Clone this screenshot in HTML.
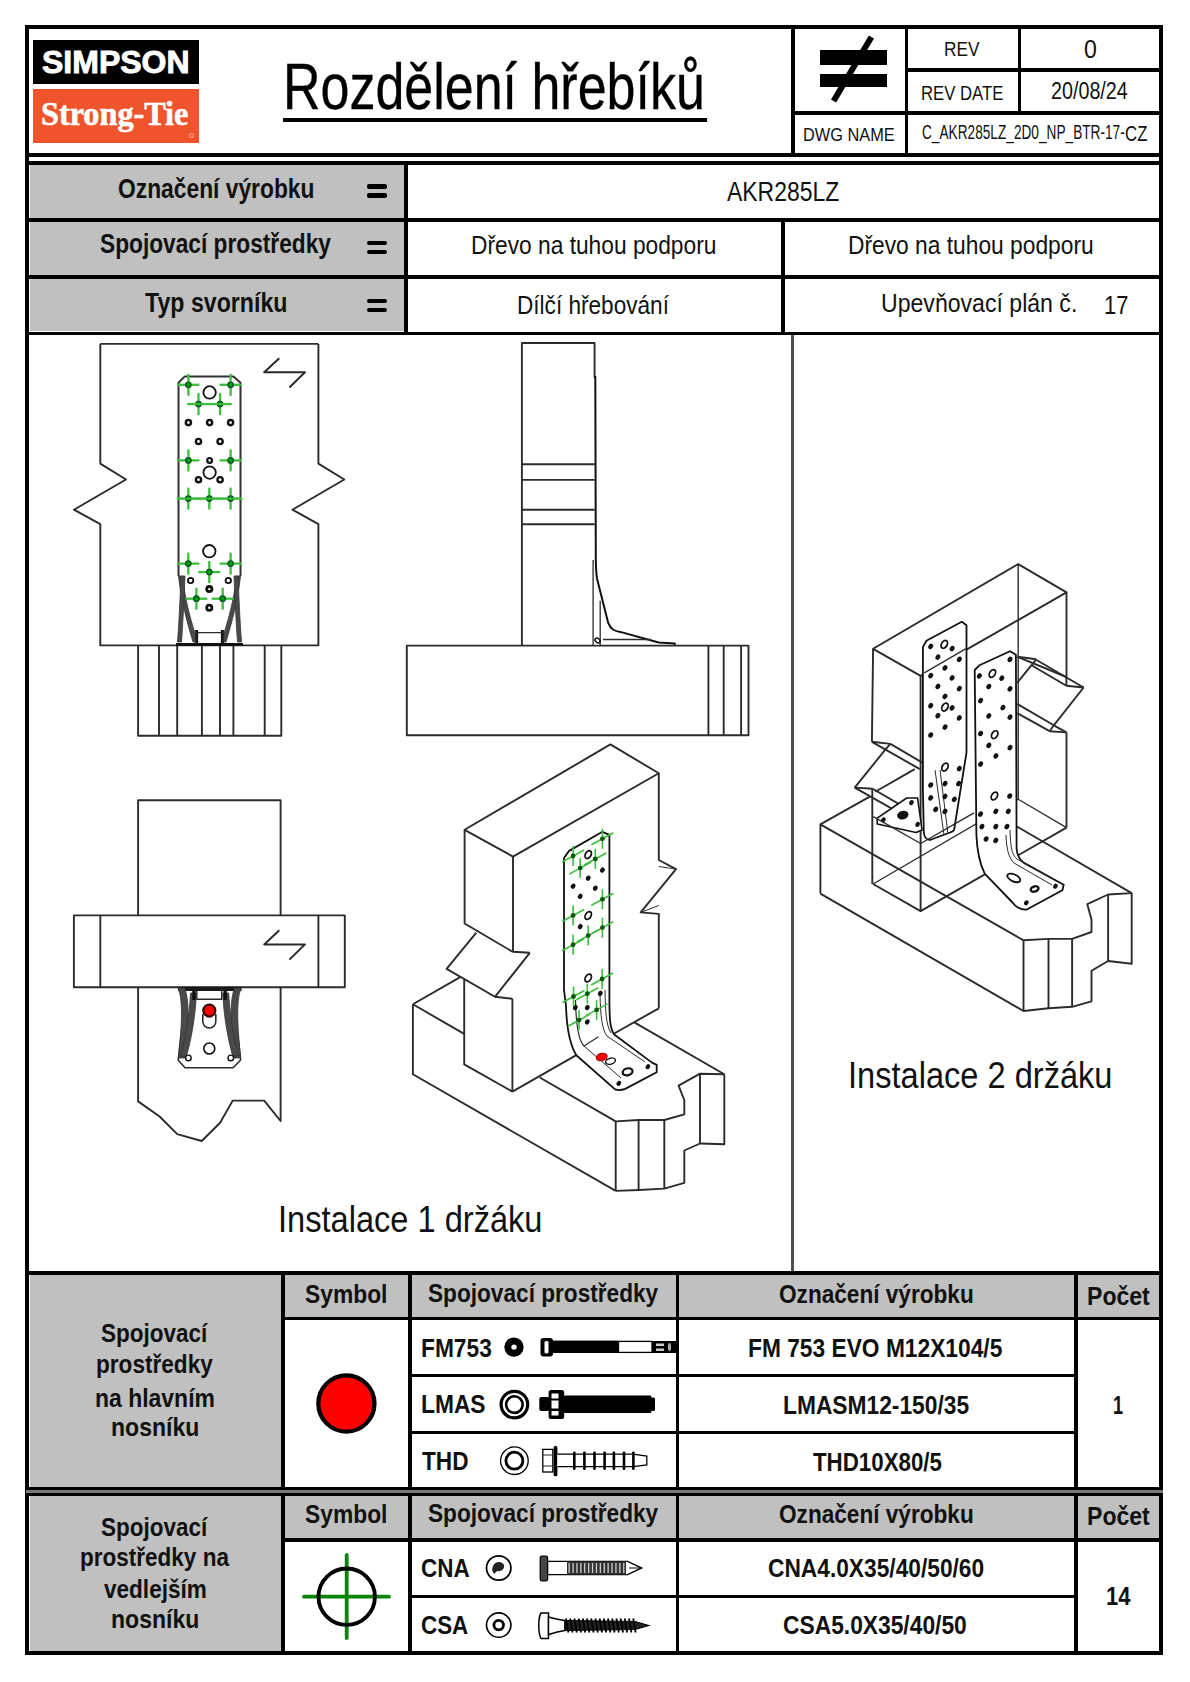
<!DOCTYPE html>
<html><head><meta charset="utf-8"><style>
html,body{margin:0;padding:0;background:#fff;width:1190px;height:1682px;overflow:hidden}
body>div{position:absolute}
.t{white-space:nowrap;transform-origin:0 0}
svg{position:absolute;left:0;top:0}
</style></head><body>
<div style="left:29.50px;top:165.10px;width:374.10px;height:166.40px;background:#c0c0c0"></div>
<div style="left:29.50px;top:1275.10px;width:251.50px;height:211.90px;background:#c0c0c0"></div>
<div style="left:29.50px;top:1496.20px;width:251.50px;height:154.80px;background:#c0c0c0"></div>
<div style="left:284.50px;top:1275.10px;width:874.70px;height:41.60px;background:#c0c0c0"></div>
<div style="left:284.50px;top:1496.20px;width:874.70px;height:41.80px;background:#c0c0c0"></div>
<div style="left:25.10px;top:25.30px;width:1138.30px;height:4.00px;background:#000"></div>
<div style="left:25.10px;top:1651.00px;width:1138.30px;height:4.00px;background:#000"></div>
<div style="left:25.10px;top:25.30px;width:4.00px;height:1629.70px;background:#000"></div>
<div style="left:1159.20px;top:25.30px;width:4.20px;height:1629.70px;background:#000"></div>
<div style="left:791.00px;top:25.60px;width:3.50px;height:131.40px;background:#000"></div>
<div style="left:904.50px;top:25.60px;width:3.50px;height:131.40px;background:#000"></div>
<div style="left:1018.00px;top:25.60px;width:3.30px;height:85.90px;background:#000"></div>
<div style="left:904.50px;top:68.00px;width:258.90px;height:3.50px;background:#000"></div>
<div style="left:791.00px;top:111.00px;width:372.40px;height:3.50px;background:#000"></div>
<div style="left:25.50px;top:153.00px;width:1137.90px;height:4.00px;background:#000"></div>
<div style="left:25.50px;top:161.30px;width:1137.90px;height:3.80px;background:#000"></div>
<div style="left:403.60px;top:161.30px;width:4.10px;height:173.70px;background:#000"></div>
<div style="left:25.50px;top:218.00px;width:1137.90px;height:3.50px;background:#000"></div>
<div style="left:25.50px;top:275.30px;width:1137.90px;height:3.40px;background:#000"></div>
<div style="left:25.50px;top:331.50px;width:1137.90px;height:3.50px;background:#000"></div>
<div style="left:781.40px;top:218.00px;width:4.00px;height:117.00px;background:#000"></div>
<div style="left:790.80px;top:335.00px;width:2.80px;height:937.00px;background:#505050"></div>
<div style="left:25.50px;top:1271.20px;width:1137.90px;height:4.00px;background:#000"></div>
<div style="left:281.00px;top:1271.20px;width:4.00px;height:383.80px;background:#000"></div>
<div style="left:408.20px;top:1271.20px;width:3.60px;height:383.80px;background:#000"></div>
<div style="left:675.50px;top:1271.20px;width:3.70px;height:383.80px;background:#000"></div>
<div style="left:1073.80px;top:1271.20px;width:4.00px;height:383.80px;background:#000"></div>
<div style="left:281.00px;top:1316.60px;width:882.40px;height:3.80px;background:#000"></div>
<div style="left:408.20px;top:1373.50px;width:669.60px;height:3.70px;background:#000"></div>
<div style="left:408.20px;top:1430.60px;width:669.60px;height:3.40px;background:#000"></div>
<div style="left:25.50px;top:1487.00px;width:1137.90px;height:3.00px;background:#000"></div>
<div style="left:25.50px;top:1490.00px;width:1137.90px;height:3.20px;background:#777"></div>
<div style="left:25.50px;top:1493.20px;width:1137.90px;height:3.00px;background:#000"></div>
<div style="left:281.00px;top:1538.00px;width:882.40px;height:3.60px;background:#000"></div>
<div style="left:408.20px;top:1594.70px;width:669.60px;height:3.50px;background:#000"></div>
<div style="left:32.50px;top:40.30px;width:166.40px;height:43.40px;background:#000"></div>
<div style="left:32.50px;top:88.70px;width:166.40px;height:54.00px;background:#ef542c"></div>
<div style="left:188.6px;top:132.8px;width:5px;height:5px;border-radius:50%;border:0.8px solid #f8b39c;box-sizing:border-box"></div>
<div class="t" style="left:42.14px;top:47.36px;font-size:31px;line-height:31px;font-family:'Liberation Sans',sans-serif;font-weight:bold;color:#fff;transform:scaleX(1.0324);-webkit-text-stroke:0.9px #fff;">SIMPSON</div>
<div class="t" style="left:41.03px;top:97.86px;font-size:33px;line-height:33px;font-family:'Liberation Serif',serif;font-weight:bold;color:#fff;transform:scaleX(0.9762);-webkit-text-stroke:0.6px #fff;">Strong-Tie</div>
<div class="t" style="left:283.44px;top:53.97px;font-size:65px;line-height:65px;font-family:'Liberation Sans',sans-serif;font-weight:normal;color:#000;transform:scaleX(0.7995);-webkit-text-stroke:0.35px #000;">Rozdělení hřebíků</div>
<div style="left:283.10px;top:117.50px;width:424.30px;height:4.50px;background:#000"></div>
<div class="t" style="left:943.92px;top:38.61px;font-size:20.3px;line-height:20.3px;font-family:'Liberation Sans',sans-serif;font-weight:normal;color:#111;transform:scaleX(0.8502);">REV</div>
<div class="t" style="left:1083.58px;top:36.90px;font-size:25.4px;line-height:25.4px;font-family:'Liberation Sans',sans-serif;font-weight:normal;color:#111;transform:scaleX(0.9104);">0</div>
<div class="t" style="left:921.06px;top:82.81px;font-size:20.3px;line-height:20.3px;font-family:'Liberation Sans',sans-serif;font-weight:normal;color:#111;transform:scaleX(0.8243);">REV DATE</div>
<div class="t" style="left:1050.81px;top:79.49px;font-size:24.7px;line-height:24.7px;font-family:'Liberation Sans',sans-serif;font-weight:normal;color:#111;transform:scaleX(0.7991);">20/08/24</div>
<div class="t" style="left:802.79px;top:125.21px;font-size:19px;line-height:19px;font-family:'Liberation Sans',sans-serif;font-weight:normal;color:#111;transform:scaleX(0.8609);">DWG NAME</div>
<div class="t" style="left:921.82px;top:123.09px;font-size:19.5px;line-height:19.5px;font-family:'Liberation Sans',sans-serif;font-weight:normal;color:#111;transform:scaleX(0.7006);">C_AKR285LZ_2D0_NP_BTR-17-</div>
<div class="t" style="left:1125.16px;top:122.57px;font-size:22px;line-height:22px;font-family:'Liberation Sans',sans-serif;font-weight:normal;color:#111;transform:scaleX(0.7636);">CZ</div>
<div style="left:819.70px;top:49.60px;width:67.70px;height:15.10px;background:#000"></div>
<div style="left:819.70px;top:73.60px;width:67.70px;height:13.80px;background:#000"></div>
<svg style="position:absolute;left:0;top:0" width="1190" height="200"><line x1="871.4" y1="37" x2="833.6" y2="101" stroke="#000" stroke-width="6"/></svg>
<div class="t" style="left:117.99px;top:176.34px;font-size:27px;line-height:27px;font-family:'Liberation Sans',sans-serif;font-weight:bold;color:#111;transform:scaleX(0.8448);">Označení výrobku</div>
<div class="t" style="left:100.22px;top:230.84px;font-size:27px;line-height:27px;font-family:'Liberation Sans',sans-serif;font-weight:bold;color:#111;transform:scaleX(0.8409);">Spojovací prostředky</div>
<div class="t" style="left:145.37px;top:290.34px;font-size:27px;line-height:27px;font-family:'Liberation Sans',sans-serif;font-weight:bold;color:#111;transform:scaleX(0.8578);">Typ svorníku</div>
<div style="left:367.1px;top:184.4px;width:20.2px;height:4.4px;background:#000;border-radius:2px"></div>
<div style="left:367.1px;top:193.3px;width:20.2px;height:4.4px;background:#000;border-radius:2px"></div>
<div style="left:367.1px;top:240.7px;width:20.2px;height:4.4px;background:#000;border-radius:2px"></div>
<div style="left:367.1px;top:249.5px;width:20.2px;height:4.4px;background:#000;border-radius:2px"></div>
<div style="left:367.1px;top:298.6px;width:20.2px;height:4.4px;background:#000;border-radius:2px"></div>
<div style="left:367.1px;top:307.5px;width:20.2px;height:4.4px;background:#000;border-radius:2px"></div>
<div class="t" style="left:726.80px;top:177.27px;font-size:28.5px;line-height:28.5px;font-family:'Liberation Sans',sans-serif;font-weight:normal;color:#111;transform:scaleX(0.8050);">AKR285LZ</div>
<div class="t" style="left:470.68px;top:232.71px;font-size:25.5px;line-height:25.5px;font-family:'Liberation Sans',sans-serif;font-weight:normal;color:#111;transform:scaleX(0.8923);">Dřevo na tuhou podporu</div>
<div class="t" style="left:848.38px;top:232.71px;font-size:25.5px;line-height:25.5px;font-family:'Liberation Sans',sans-serif;font-weight:normal;color:#111;transform:scaleX(0.8934);">Dřevo na tuhou podporu</div>
<div class="t" style="left:516.99px;top:293.41px;font-size:25.5px;line-height:25.5px;font-family:'Liberation Sans',sans-serif;font-weight:normal;color:#111;transform:scaleX(0.8858);">Dílčí hřebování</div>
<div class="t" style="left:880.77px;top:291.11px;font-size:25.5px;line-height:25.5px;font-family:'Liberation Sans',sans-serif;font-weight:normal;color:#111;transform:scaleX(0.9052);">Upevňovací plán č.</div>
<div class="t" style="left:1104.36px;top:292.71px;font-size:25.5px;line-height:25.5px;font-family:'Liberation Sans',sans-serif;font-weight:normal;color:#111;transform:scaleX(0.8560);">17</div>
<div class="t" style="left:278.07px;top:1201.85px;font-size:36.2px;line-height:36.2px;font-family:'Liberation Sans',sans-serif;font-weight:normal;color:#111;transform:scaleX(0.9006);">Instalace 1 držáku</div>
<div class="t" style="left:848.07px;top:1057.65px;font-size:36.2px;line-height:36.2px;font-family:'Liberation Sans',sans-serif;font-weight:normal;color:#111;transform:scaleX(0.9006);">Instalace 2 držáku</div>
<div class="t" style="left:305.42px;top:1281.51px;font-size:25.5px;line-height:25.5px;font-family:'Liberation Sans',sans-serif;font-weight:bold;color:#111;transform:scaleX(0.8948);">Symbol</div>
<div class="t" style="left:427.52px;top:1281.21px;font-size:25.5px;line-height:25.5px;font-family:'Liberation Sans',sans-serif;font-weight:bold;color:#111;transform:scaleX(0.8876);">Spojovací prostředky</div>
<div class="t" style="left:779.20px;top:1282.01px;font-size:25.5px;line-height:25.5px;font-family:'Liberation Sans',sans-serif;font-weight:bold;color:#111;transform:scaleX(0.8866);">Označení výrobku</div>
<div class="t" style="left:1086.50px;top:1284.11px;font-size:25.5px;line-height:25.5px;font-family:'Liberation Sans',sans-serif;font-weight:bold;color:#111;transform:scaleX(0.9044);">Počet</div>
<div class="t" style="left:305.42px;top:1501.71px;font-size:25.5px;line-height:25.5px;font-family:'Liberation Sans',sans-serif;font-weight:bold;color:#111;transform:scaleX(0.8948);">Symbol</div>
<div class="t" style="left:427.52px;top:1501.41px;font-size:25.5px;line-height:25.5px;font-family:'Liberation Sans',sans-serif;font-weight:bold;color:#111;transform:scaleX(0.8876);">Spojovací prostředky</div>
<div class="t" style="left:779.20px;top:1502.21px;font-size:25.5px;line-height:25.5px;font-family:'Liberation Sans',sans-serif;font-weight:bold;color:#111;transform:scaleX(0.8866);">Označení výrobku</div>
<div class="t" style="left:1086.50px;top:1504.01px;font-size:25.5px;line-height:25.5px;font-family:'Liberation Sans',sans-serif;font-weight:bold;color:#111;transform:scaleX(0.9044);">Počet</div>
<div class="t" style="left:101.12px;top:1321.13px;font-size:25px;line-height:25px;font-family:'Liberation Sans',sans-serif;font-weight:bold;color:#111;transform:scaleX(0.9000);">Spojovací</div>
<div class="t" style="left:95.93px;top:1352.34px;font-size:25px;line-height:25px;font-family:'Liberation Sans',sans-serif;font-weight:bold;color:#111;transform:scaleX(0.9036);">prostředky</div>
<div class="t" style="left:95.21px;top:1385.74px;font-size:25px;line-height:25px;font-family:'Liberation Sans',sans-serif;font-weight:bold;color:#111;transform:scaleX(0.9184);">na hlavním</div>
<div class="t" style="left:110.80px;top:1414.63px;font-size:25px;line-height:25px;font-family:'Liberation Sans',sans-serif;font-weight:bold;color:#111;transform:scaleX(0.9209);">nosníku</div>
<div class="t" style="left:101.12px;top:1514.54px;font-size:25px;line-height:25px;font-family:'Liberation Sans',sans-serif;font-weight:bold;color:#111;transform:scaleX(0.9000);">Spojovací</div>
<div class="t" style="left:79.64px;top:1544.54px;font-size:25px;line-height:25px;font-family:'Liberation Sans',sans-serif;font-weight:bold;color:#111;transform:scaleX(0.9007);">prostředky na</div>
<div class="t" style="left:103.89px;top:1576.84px;font-size:25px;line-height:25px;font-family:'Liberation Sans',sans-serif;font-weight:bold;color:#111;transform:scaleX(0.9023);">vedlejším</div>
<div class="t" style="left:110.80px;top:1606.84px;font-size:25px;line-height:25px;font-family:'Liberation Sans',sans-serif;font-weight:bold;color:#111;transform:scaleX(0.9209);">nosníku</div>
<div class="t" style="left:420.72px;top:1335.84px;font-size:25px;line-height:25px;font-family:'Liberation Sans',sans-serif;font-weight:bold;color:#111;transform:scaleX(0.9103);">FM753</div>
<div class="t" style="left:420.72px;top:1392.04px;font-size:25px;line-height:25px;font-family:'Liberation Sans',sans-serif;font-weight:bold;color:#111;transform:scaleX(0.9114);">LMAS</div>
<div class="t" style="left:421.97px;top:1449.24px;font-size:25px;line-height:25px;font-family:'Liberation Sans',sans-serif;font-weight:bold;color:#111;transform:scaleX(0.9057);">THD</div>
<div class="t" style="left:421.30px;top:1555.84px;font-size:25px;line-height:25px;font-family:'Liberation Sans',sans-serif;font-weight:bold;color:#111;transform:scaleX(0.8971);">CNA</div>
<div class="t" style="left:421.30px;top:1613.13px;font-size:25px;line-height:25px;font-family:'Liberation Sans',sans-serif;font-weight:bold;color:#111;transform:scaleX(0.8958);">CSA</div>
<div class="t" style="left:748.32px;top:1336.24px;font-size:25px;line-height:25px;font-family:'Liberation Sans',sans-serif;font-weight:bold;color:#111;transform:scaleX(0.9105);">FM 753 EVO M12X104/5</div>
<div class="t" style="left:782.82px;top:1392.54px;font-size:25px;line-height:25px;font-family:'Liberation Sans',sans-serif;font-weight:bold;color:#111;transform:scaleX(0.9109);">LMASM12-150/35</div>
<div class="t" style="left:812.68px;top:1449.63px;font-size:25px;line-height:25px;font-family:'Liberation Sans',sans-serif;font-weight:bold;color:#111;transform:scaleX(0.8919);">THD10X80/5</div>
<div class="t" style="left:767.79px;top:1556.34px;font-size:25px;line-height:25px;font-family:'Liberation Sans',sans-serif;font-weight:bold;color:#111;transform:scaleX(0.9095);">CNA4.0X35/40/50/60</div>
<div class="t" style="left:783.39px;top:1613.43px;font-size:25px;line-height:25px;font-family:'Liberation Sans',sans-serif;font-weight:bold;color:#111;transform:scaleX(0.9118);">CSA5.0X35/40/50</div>
<div class="t" style="left:1113.41px;top:1392.54px;font-size:25px;line-height:25px;font-family:'Liberation Sans',sans-serif;font-weight:bold;color:#111;transform:scaleX(0.7234);">1</div>
<div class="t" style="left:1105.68px;top:1584.04px;font-size:25px;line-height:25px;font-family:'Liberation Sans',sans-serif;font-weight:bold;color:#111;transform:scaleX(0.8804);">14</div>
<svg width="1190" height="1682" viewBox="0 0 1190 1682"><path d="M100.3,343.9 L318.4,343.9" stroke="#2b2b2b" stroke-width="1.9" fill="none" stroke-linejoin="round" />
<path d="M100.3,343.9 L100.3,463.6 L126.0,479.5 L73.9,509.7 L100.3,524.1 L100.3,645.4" stroke="#2b2b2b" stroke-width="1.9" fill="none" stroke-linejoin="round" />
<path d="M318.4,343.9 L318.4,463.6 L344.3,479.5 L292.4,509.7 L318.4,524.1 L318.4,645.4" stroke="#2b2b2b" stroke-width="1.9" fill="none" stroke-linejoin="round" />
<line x1="99.6" y1="645.4" x2="319.1" y2="645.4" stroke="#2b2b2b" stroke-width="1.9"/>
<path d="M279.3,358.2 L264.2,372.3 L305.0,372.3 L289.4,387.5" stroke="#2b2b2b" stroke-width="2.0" fill="none" stroke-linejoin="round" />
<path d="M138.1,645.4 L138.1,735.8 L281.3,735.8 L281.3,645.4" stroke="#2b2b2b" stroke-width="1.9" fill="none" stroke-linejoin="round" />
<line x1="159.0" y1="645.4" x2="159.0" y2="735.8" stroke="#2b2b2b" stroke-width="1.9"/>
<line x1="177.2" y1="645.4" x2="177.2" y2="735.8" stroke="#2b2b2b" stroke-width="1.9"/>
<line x1="201.9" y1="645.4" x2="201.9" y2="735.8" stroke="#2b2b2b" stroke-width="1.9"/>
<line x1="220.0" y1="645.4" x2="220.0" y2="735.8" stroke="#2b2b2b" stroke-width="1.9"/>
<line x1="233.4" y1="645.4" x2="233.4" y2="735.8" stroke="#2b2b2b" stroke-width="1.9"/>
<line x1="264.7" y1="645.4" x2="264.7" y2="735.8" stroke="#2b2b2b" stroke-width="1.9"/>
<path d="M178.5,576.0 L178.5,382.7 L184.8,376.4 L233.5,376.4 L240.5,382.7 L240.5,576.0" stroke="#333" stroke-width="2.0" fill="none" stroke-linejoin="round" />
<path d="M178.5,576 L182.5,576 C185,600 191,622 198,642 L193,642 C187,622 181,600 178.5,576 Z" stroke="#333" stroke-width="0.8" fill="#4a4a4a" stroke-linejoin="round" />
<path d="M181,576 L185,576 C184,600 183,622 181.5,642 L177.5,642 C179,622 180,600 181,576 Z" stroke="#333" stroke-width="0.8" fill="#4a4a4a" stroke-linejoin="round" />
<line x1="196.6" y1="630.0" x2="196.6" y2="643.0" stroke="#111" stroke-width="3.0"/>
<path d="M240.5,576 L236.5,576 C234,600 228,622 221,642 L226,642 C232,622 238,600 240.5,576 Z" stroke="#333" stroke-width="0.8" fill="#4a4a4a" stroke-linejoin="round" />
<path d="M238,576 L234,576 C235,600 236,622 237.5,642 L241.5,642 C240,622 239,600 238,576 Z" stroke="#333" stroke-width="0.8" fill="#4a4a4a" stroke-linejoin="round" />
<line x1="222.4" y1="630.0" x2="222.4" y2="643.0" stroke="#111" stroke-width="3.0"/>
<path d="M195.9,644.0 L195.9,632.6 L223.2,632.6 L223.2,644.0" stroke="#2b2b2b" stroke-width="1.4" fill="none" stroke-linejoin="round" />
<line x1="176.0" y1="644.5" x2="243.0" y2="644.5" stroke="#111" stroke-width="3"/>
<circle cx="188.4" cy="422.6" r="2.6" stroke="#111" stroke-width="2.4" fill="none"/>
<circle cx="209.6" cy="422.6" r="2.6" stroke="#111" stroke-width="2.4" fill="none"/>
<circle cx="230.6" cy="422.6" r="2.6" stroke="#111" stroke-width="2.4" fill="none"/>
<circle cx="198.5" cy="441.5" r="2.6" stroke="#111" stroke-width="2.4" fill="none"/>
<circle cx="220.1" cy="441.5" r="2.6" stroke="#111" stroke-width="2.4" fill="none"/>
<circle cx="198.5" cy="479.7" r="2.6" stroke="#111" stroke-width="2.4" fill="none"/>
<circle cx="220.1" cy="479.7" r="2.6" stroke="#111" stroke-width="2.4" fill="none"/>
<circle cx="209.6" cy="460.4" r="2.4" stroke="#111" stroke-width="2.2" fill="none"/>
<circle cx="209.6" cy="392.4" r="6.2" stroke="#111" stroke-width="1.8" fill="none"/>
<circle cx="209.6" cy="472.6" r="6.2" stroke="#111" stroke-width="1.8" fill="none"/>
<circle cx="209.3" cy="551.2" r="6.2" stroke="#111" stroke-width="1.8" fill="none"/>
<circle cx="190.6" cy="580.5" r="2.7" stroke="#111" stroke-width="1.8" fill="none"/>
<circle cx="228.3" cy="580.5" r="2.7" stroke="#111" stroke-width="1.8" fill="none"/>
<circle cx="209.3" cy="589.1" r="2.6" stroke="#111" stroke-width="2.8" fill="none"/>
<circle cx="209.3" cy="607.8" r="2.6" stroke="#111" stroke-width="2.8" fill="none"/>
<line x1="177.4" y1="384.8" x2="199.4" y2="384.8" stroke="#3cbe3c" stroke-width="2.3"/>
<line x1="188.4" y1="373.8" x2="188.4" y2="395.8" stroke="#3cbe3c" stroke-width="2.3"/>
<circle cx="188.4" cy="384.8" r="2.7" stroke="#052" stroke-width="1.3" fill="#0a9a0a"/>
<line x1="219.6" y1="384.8" x2="241.6" y2="384.8" stroke="#3cbe3c" stroke-width="2.3"/>
<line x1="230.6" y1="373.8" x2="230.6" y2="395.8" stroke="#3cbe3c" stroke-width="2.3"/>
<circle cx="230.6" cy="384.8" r="2.7" stroke="#052" stroke-width="1.3" fill="#0a9a0a"/>
<line x1="187.5" y1="404.1" x2="209.5" y2="404.1" stroke="#3cbe3c" stroke-width="2.3"/>
<line x1="198.5" y1="393.1" x2="198.5" y2="415.1" stroke="#3cbe3c" stroke-width="2.3"/>
<circle cx="198.5" cy="404.1" r="2.7" stroke="#052" stroke-width="1.3" fill="#0a9a0a"/>
<line x1="209.1" y1="404.1" x2="231.1" y2="404.1" stroke="#3cbe3c" stroke-width="2.3"/>
<line x1="220.1" y1="393.1" x2="220.1" y2="415.1" stroke="#3cbe3c" stroke-width="2.3"/>
<circle cx="220.1" cy="404.1" r="2.7" stroke="#052" stroke-width="1.3" fill="#0a9a0a"/>
<line x1="177.4" y1="460.4" x2="199.4" y2="460.4" stroke="#3cbe3c" stroke-width="2.3"/>
<line x1="188.4" y1="449.4" x2="188.4" y2="471.4" stroke="#3cbe3c" stroke-width="2.3"/>
<circle cx="188.4" cy="460.4" r="2.7" stroke="#052" stroke-width="1.3" fill="#0a9a0a"/>
<line x1="219.6" y1="460.4" x2="241.6" y2="460.4" stroke="#3cbe3c" stroke-width="2.3"/>
<line x1="230.6" y1="449.4" x2="230.6" y2="471.4" stroke="#3cbe3c" stroke-width="2.3"/>
<circle cx="230.6" cy="460.4" r="2.7" stroke="#052" stroke-width="1.3" fill="#0a9a0a"/>
<line x1="177.3" y1="498.6" x2="199.3" y2="498.6" stroke="#3cbe3c" stroke-width="2.3"/>
<line x1="188.3" y1="487.6" x2="188.3" y2="509.6" stroke="#3cbe3c" stroke-width="2.3"/>
<circle cx="188.3" cy="498.6" r="2.7" stroke="#052" stroke-width="1.3" fill="#0a9a0a"/>
<line x1="198.3" y1="498.6" x2="220.3" y2="498.6" stroke="#3cbe3c" stroke-width="2.3"/>
<line x1="209.3" y1="487.6" x2="209.3" y2="509.6" stroke="#3cbe3c" stroke-width="2.3"/>
<circle cx="209.3" cy="498.6" r="2.7" stroke="#052" stroke-width="1.3" fill="#0a9a0a"/>
<line x1="219.6" y1="498.6" x2="241.6" y2="498.6" stroke="#3cbe3c" stroke-width="2.3"/>
<line x1="230.6" y1="487.6" x2="230.6" y2="509.6" stroke="#3cbe3c" stroke-width="2.3"/>
<circle cx="230.6" cy="498.6" r="2.7" stroke="#052" stroke-width="1.3" fill="#0a9a0a"/>
<line x1="177.3" y1="563.6" x2="199.3" y2="563.6" stroke="#3cbe3c" stroke-width="2.3"/>
<line x1="188.3" y1="552.6" x2="188.3" y2="574.6" stroke="#3cbe3c" stroke-width="2.3"/>
<circle cx="188.3" cy="563.6" r="2.7" stroke="#052" stroke-width="1.3" fill="#0a9a0a"/>
<line x1="219.6" y1="563.6" x2="241.6" y2="563.6" stroke="#3cbe3c" stroke-width="2.3"/>
<line x1="230.6" y1="552.6" x2="230.6" y2="574.6" stroke="#3cbe3c" stroke-width="2.3"/>
<circle cx="230.6" cy="563.6" r="2.7" stroke="#052" stroke-width="1.3" fill="#0a9a0a"/>
<line x1="198.3" y1="572.1" x2="220.3" y2="572.1" stroke="#3cbe3c" stroke-width="2.3"/>
<line x1="209.3" y1="561.1" x2="209.3" y2="583.1" stroke="#3cbe3c" stroke-width="2.3"/>
<circle cx="209.3" cy="572.1" r="2.7" stroke="#052" stroke-width="1.3" fill="#0a9a0a"/>
<line x1="185.4" y1="598.7" x2="207.4" y2="598.7" stroke="#3cbe3c" stroke-width="2.3"/>
<line x1="196.4" y1="587.7" x2="196.4" y2="609.7" stroke="#3cbe3c" stroke-width="2.3"/>
<circle cx="196.4" cy="598.7" r="2.7" stroke="#052" stroke-width="1.3" fill="#0a9a0a"/>
<line x1="211.7" y1="598.7" x2="233.7" y2="598.7" stroke="#3cbe3c" stroke-width="2.3"/>
<line x1="222.7" y1="587.7" x2="222.7" y2="609.7" stroke="#3cbe3c" stroke-width="2.3"/>
<circle cx="222.7" cy="598.7" r="2.7" stroke="#052" stroke-width="1.3" fill="#0a9a0a"/>
<line x1="187.3" y1="404.1" x2="231.8" y2="404.1" stroke="#3cbe3c" stroke-width="1.6"/>
<line x1="176.7" y1="498.6" x2="242.4" y2="498.6" stroke="#3cbe3c" stroke-width="1.6"/>
<path d="M521.9,645.6 L521.9,343.0 L594.6,343.0 L594.6,378.0" stroke="#2b2b2b" stroke-width="1.9" fill="none" stroke-linejoin="round" />
<line x1="521.9" y1="464.3" x2="594.6" y2="464.3" stroke="#2b2b2b" stroke-width="1.9"/>
<line x1="521.9" y1="479.9" x2="594.6" y2="479.9" stroke="#2b2b2b" stroke-width="1.9"/>
<line x1="521.9" y1="509.7" x2="594.6" y2="509.7" stroke="#2b2b2b" stroke-width="1.9"/>
<line x1="521.9" y1="524.3" x2="594.6" y2="524.3" stroke="#2b2b2b" stroke-width="1.9"/>
<path d="M595.3,376 L595.8,560 C596,572 596.5,575 597,578.5 L608.2,622.9 C611,630 615,631 620.3,631.9 L658.7,642.5 L674.8,643.5 L674.8,645.5" stroke="#111" stroke-width="2.0" fill="none" stroke-linejoin="round" />
<line x1="593.1" y1="560.0" x2="593.1" y2="645.6" stroke="#2b2b2b" stroke-width="1.3"/>
<line x1="600.2" y1="600.7" x2="600.2" y2="645.6" stroke="#2b2b2b" stroke-width="1.3"/>
<line x1="603.0" y1="639.5" x2="650.6" y2="639.5" stroke="#2b2b2b" stroke-width="1.3"/>
<ellipse cx="597.6" cy="640.5" rx="2.8" ry="2" stroke="#111" stroke-width="1.5" fill="none" transform="rotate(40 597.6 640.5)"/>
<path d="M406.8,645.6 L748.5,645.6 L748.5,735.2 L406.8,735.2 Z" stroke="#2b2b2b" stroke-width="1.9" fill="none" stroke-linejoin="round" />
<line x1="708.4" y1="645.6" x2="708.4" y2="735.2" stroke="#2b2b2b" stroke-width="1.9"/>
<line x1="723.7" y1="645.6" x2="723.7" y2="735.2" stroke="#2b2b2b" stroke-width="1.9"/>
<line x1="741.1" y1="645.6" x2="741.1" y2="735.2" stroke="#2b2b2b" stroke-width="1.9"/>
<path d="M138.1,914.9 L138.1,800.2 L280.6,800.2 L280.6,914.9" stroke="#2b2b2b" stroke-width="1.9" fill="none" stroke-linejoin="round" />
<path d="M73.9,915.4 L344.8,915.4 L344.8,987.2 L73.9,987.2 Z" stroke="#2b2b2b" stroke-width="1.9" fill="none" stroke-linejoin="round" />
<line x1="100.3" y1="914.9" x2="100.3" y2="987.2" stroke="#2b2b2b" stroke-width="1.9"/>
<line x1="318.4" y1="914.9" x2="318.4" y2="987.2" stroke="#2b2b2b" stroke-width="1.9"/>
<path d="M279.3,930.3 L264.2,944.4 L305.0,944.4 L289.4,959.6" stroke="#2b2b2b" stroke-width="2.0" fill="none" stroke-linejoin="round" />
<path d="M138.1,987.2 L138.1,1101.4 L159.6,1116.5 L177.2,1134.2 L201.7,1141.0 L220.1,1122.8 L232.7,1100.6 L264.2,1100.6 L280.6,1121.0 L280.6,987.2" stroke="#2b2b2b" stroke-width="1.9" fill="none" stroke-linejoin="round" />
<rect x="178" y="986.8" width="63.5" height="4.2" fill="#1a1a1a"/>
<path d="M196.8,991.0 L196.8,999.3 L221.7,999.3 L221.7,991.0" stroke="#2b2b2b" stroke-width="1.4" fill="none" stroke-linejoin="round" />
<path d="M185.0,999.7 L178.2,1060.2 L185.0,1067.7 L233.1,1067.7 L240.6,1060.0 L233.8,999.7" stroke="#2b2b2b" stroke-width="1.6" fill="none" stroke-linejoin="round" />
<path d="M178,988 L184.5,988 C190,1000 188.5,1030 185,1058 L178.5,1058 C181.5,1030 183.5,1000 178,988 Z" stroke="#333" stroke-width="0.8" fill="#4a4a4a" stroke-linejoin="round" />
<path d="M190.5,993 L196.5,993 C195,1020 191,1040 186.5,1056 L180.5,1056 C185,1040 189,1020 190.5,993 Z" stroke="#333" stroke-width="0.8" fill="#4a4a4a" stroke-linejoin="round" />
<path d="M 241.2,988 L 234.7,988 C 229.2,1000 230.7,1030 234.2,1058 L 240.7,1058 C 237.7,1030 235.7,1000 241.2,988 Z" stroke="#333" stroke-width="0.8" fill="#4a4a4a" stroke-linejoin="round" />
<path d="M 228.7,993 L 222.7,993 C 224.2,1020 228.2,1040 232.7,1056 L 238.7,1056 C 234.2,1040 230.2,1020 228.7,993 Z" stroke="#333" stroke-width="0.8" fill="#4a4a4a" stroke-linejoin="round" />
<line x1="194.0" y1="991.0" x2="194.0" y2="1000.0" stroke="#111" stroke-width="3.4"/>
<line x1="225.2" y1="991.0" x2="225.2" y2="1000.0" stroke="#111" stroke-width="3.4"/>
<circle cx="209.3" cy="1010.6" r="6.0" stroke="#300" stroke-width="2.2" fill="#f00"/>
<path d="M202.8,1014 L202.8,1021.5 A6.5,6.5 0 0 0 215.8,1021.5 L215.8,1014" stroke="#2b2b2b" stroke-width="1.6" fill="none" stroke-linejoin="round" />
<circle cx="209.3" cy="1048.5" r="5.5" stroke="#111" stroke-width="1.6" fill="none"/>
<circle cx="188.4" cy="1057.9" r="2.8" stroke="#111" stroke-width="1.4" fill="none"/>
<circle cx="230.8" cy="1057.9" r="2.8" stroke="#111" stroke-width="1.4" fill="none"/>
<path d="M610.4,744.4 L658.8,773.3 L513.0,856.6 L464.6,829.8 Z" stroke="#2b2b2b" stroke-width="1.9" fill="none" stroke-linejoin="round" />
<path d="M464.6,829.8 L464.6,923.5 L512.6,951.8" stroke="#2b2b2b" stroke-width="1.9" fill="none" stroke-linejoin="round" />
<path d="M513.0,856.6 L513.0,951.8 L529.8,952.8" stroke="#2b2b2b" stroke-width="1.9" fill="none" stroke-linejoin="round" />
<path d="M529.8,952.8 L495.0,996.8 L446.6,968.9 L476.3,932.6" stroke="#2b2b2b" stroke-width="1.9" fill="none" stroke-linejoin="round" />
<path d="M495.0,996.8 L512.4,998.8" stroke="#2b2b2b" stroke-width="1.9" fill="none" stroke-linejoin="round" />
<path d="M658.8,773.3 L658.8,860.0 L676.0,869.1 L640.7,912.4 L658.8,913.9 L658.8,1008.3" stroke="#2b2b2b" stroke-width="1.9" fill="none" stroke-linejoin="round" />
<line x1="658.8" y1="866.5" x2="676.0" y2="869.1" stroke="#2b2b2b" stroke-width="1.0"/>
<line x1="640.7" y1="912.4" x2="658.8" y2="905.5" stroke="#2b2b2b" stroke-width="1.0"/>
<path d="M464.2,979.2 L464.2,1064.4 L512.4,1091.6" stroke="#2b2b2b" stroke-width="1.9" fill="none" stroke-linejoin="round" />
<line x1="512.4" y1="998.8" x2="512.4" y2="1091.6" stroke="#2b2b2b" stroke-width="1.9"/>
<path d="M512.4,1091.6 L576.3,1055.2" stroke="#2b2b2b" stroke-width="1.9" fill="none" stroke-linejoin="round" />
<path d="M614.2,1033.5 L658.8,1008.3" stroke="#2b2b2b" stroke-width="1.9" fill="none" stroke-linejoin="round" />
<path d="M412.9,1004.3 L460.2,977.1" stroke="#2b2b2b" stroke-width="1.9" fill="none" stroke-linejoin="round" />
<path d="M412.9,1004.3 L464.2,1033.9" stroke="#2b2b2b" stroke-width="1.9" fill="none" stroke-linejoin="round" />
<path d="M539.8,1077.5 L615.7,1121.4 L638.6,1120.0 L664.3,1120.0 L684.3,1114.3 L684.3,1100.0 L678.6,1085.7 L700.0,1073.7 L724.3,1074.3" stroke="#2b2b2b" stroke-width="1.9" fill="none" stroke-linejoin="round" />
<path d="M634.3,1022.4 L724.3,1074.3" stroke="#2b2b2b" stroke-width="1.9" fill="none" stroke-linejoin="round" />
<path d="M412.9,1004.3 L412.9,1074.3 L615.7,1190.9" stroke="#2b2b2b" stroke-width="1.9" fill="none" stroke-linejoin="round" />
<path d="M615.7,1190.9 L638.6,1190.0 L664.3,1188.6 L684.3,1182.9 L684.3,1150.5 L700.0,1143.5 L724.3,1144.3 L724.3,1074.3" stroke="#2b2b2b" stroke-width="1.9" fill="none" stroke-linejoin="round" />
<line x1="615.7" y1="1121.4" x2="615.7" y2="1190.9" stroke="#2b2b2b" stroke-width="1.9"/>
<line x1="638.6" y1="1120.0" x2="638.6" y2="1190.0" stroke="#2b2b2b" stroke-width="1.9"/>
<line x1="664.3" y1="1120.0" x2="664.3" y2="1188.6" stroke="#2b2b2b" stroke-width="1.9"/>
<line x1="700.0" y1="1073.7" x2="700.0" y2="1143.5" stroke="#2b2b2b" stroke-width="1.9"/>
<path d="M564,858 L569.1,850.9 L602.4,831.8 L609.4,834.8 L609.4,1000 C609.5,1020 610,1028 614.2,1034.5 L652,1062.6 L656.7,1064.9 L656.7,1072.3 L625.2,1088.9 C621,1090.5 618,1090.5 615.1,1089.4 L576.3,1055.2 C570,1045 566.6,1025 566,1006 L564,990 Z" stroke="#111" stroke-width="1.8" fill="#fff" stroke-linejoin="round" />
<path d="M575.5,1000 C576,1025 578,1040 584,1046 L598.4,1036.7" stroke="#2b2b2b" stroke-width="1.2" fill="none" stroke-linejoin="round" />
<path d="M600,995 C600.5,1015 602,1030 607,1036 L645,1062" stroke="#2b2b2b" stroke-width="1.0" fill="none" stroke-linejoin="round" />
<path d="M605,990 C605.5,1012 606,1025 611,1033" stroke="#2b2b2b" stroke-width="1.0" fill="none" stroke-linejoin="round" />
<line x1="584.0" y1="1046.0" x2="621.0" y2="1078.0" stroke="#2b2b2b" stroke-width="1.0"/>
<ellipse cx="602.4" cy="870.1" rx="2.76" ry="2.21" transform="rotate(-60 602.4 870.1)" fill="#111"/>
<ellipse cx="588.2" cy="878.2" rx="2.76" ry="2.21" transform="rotate(-60 588.2 878.2)" fill="#111"/>
<ellipse cx="573.1" cy="886.2" rx="2.76" ry="2.21" transform="rotate(-60 573.1 886.2)" fill="#111"/>
<ellipse cx="595.3" cy="888.2" rx="2.76" ry="2.21" transform="rotate(-60 595.3 888.2)" fill="#111"/>
<ellipse cx="580.2" cy="896.3" rx="2.76" ry="2.21" transform="rotate(-60 580.2 896.3)" fill="#111"/>
<ellipse cx="580.2" cy="926.6" rx="2.76" ry="2.21" transform="rotate(-60 580.2 926.6)" fill="#111"/>
<ellipse cx="600.3" cy="993.3" rx="2.76" ry="2.21" transform="rotate(-60 600.3 993.3)" fill="#111"/>
<ellipse cx="575.3" cy="1007.6" rx="2.76" ry="2.21" transform="rotate(-60 575.3 1007.6)" fill="#111"/>
<ellipse cx="587.3" cy="1007.6" rx="2.76" ry="2.21" transform="rotate(-60 587.3 1007.6)" fill="#111"/>
<ellipse cx="587.3" cy="1021.9" rx="2.76" ry="2.21" transform="rotate(-60 587.3 1021.9)" fill="#111"/>
<ellipse cx="588.2" cy="854.6" rx="4.2" ry="2.8" transform="rotate(-60 588.2 854.6)" stroke="#111" stroke-width="1.8" fill="none"/>
<ellipse cx="588.2" cy="915.5" rx="4.2" ry="2.8" transform="rotate(-60 588.2 915.5)" stroke="#111" stroke-width="1.8" fill="none"/>
<ellipse cx="588.2" cy="978.0" rx="4.2" ry="2.8" transform="rotate(-60 588.2 978.0)" stroke="#111" stroke-width="1.8" fill="none"/>
<line x1="562.1" y1="862.0" x2="584.1" y2="850.0" stroke="#3cbe3c" stroke-width="1.6"/>
<line x1="573.1" y1="846.0" x2="573.1" y2="866.0" stroke="#3cbe3c" stroke-width="1.6"/>
<circle cx="573.1" cy="856.0" r="2.4" stroke="none" stroke-width="0" fill="#0a5a0a"/>
<line x1="569.2" y1="874.1" x2="591.2" y2="862.1" stroke="#3cbe3c" stroke-width="1.6"/>
<line x1="580.2" y1="858.1" x2="580.2" y2="878.1" stroke="#3cbe3c" stroke-width="1.6"/>
<circle cx="580.2" cy="868.1" r="2.4" stroke="none" stroke-width="0" fill="#0a5a0a"/>
<line x1="584.3" y1="865.0" x2="606.3" y2="853.0" stroke="#3cbe3c" stroke-width="1.6"/>
<line x1="595.3" y1="849.0" x2="595.3" y2="869.0" stroke="#3cbe3c" stroke-width="1.6"/>
<circle cx="595.3" cy="859.0" r="2.4" stroke="none" stroke-width="0" fill="#0a5a0a"/>
<line x1="591.4" y1="844.8" x2="613.4" y2="832.8" stroke="#3cbe3c" stroke-width="1.6"/>
<line x1="602.4" y1="828.8" x2="602.4" y2="848.8" stroke="#3cbe3c" stroke-width="1.6"/>
<circle cx="602.4" cy="838.8" r="2.4" stroke="none" stroke-width="0" fill="#0a5a0a"/>
<line x1="591.4" y1="905.3" x2="613.4" y2="893.2" stroke="#3cbe3c" stroke-width="1.6"/>
<line x1="602.4" y1="889.3" x2="602.4" y2="909.3" stroke="#3cbe3c" stroke-width="1.6"/>
<circle cx="602.4" cy="899.3" r="2.4" stroke="none" stroke-width="0" fill="#0a5a0a"/>
<line x1="562.1" y1="921.5" x2="584.1" y2="909.5" stroke="#3cbe3c" stroke-width="1.6"/>
<line x1="573.1" y1="905.5" x2="573.1" y2="925.5" stroke="#3cbe3c" stroke-width="1.6"/>
<circle cx="573.1" cy="915.5" r="2.4" stroke="none" stroke-width="0" fill="#0a5a0a"/>
<line x1="562.1" y1="950.8" x2="584.1" y2="938.7" stroke="#3cbe3c" stroke-width="1.6"/>
<line x1="573.1" y1="934.7" x2="573.1" y2="954.7" stroke="#3cbe3c" stroke-width="1.6"/>
<circle cx="573.1" cy="944.7" r="2.4" stroke="none" stroke-width="0" fill="#0a5a0a"/>
<line x1="577.2" y1="941.6" x2="599.2" y2="929.6" stroke="#3cbe3c" stroke-width="1.6"/>
<line x1="588.2" y1="925.6" x2="588.2" y2="945.6" stroke="#3cbe3c" stroke-width="1.6"/>
<circle cx="588.2" cy="935.6" r="2.4" stroke="none" stroke-width="0" fill="#0a5a0a"/>
<line x1="591.4" y1="933.6" x2="613.4" y2="921.6" stroke="#3cbe3c" stroke-width="1.6"/>
<line x1="602.4" y1="917.6" x2="602.4" y2="937.6" stroke="#3cbe3c" stroke-width="1.6"/>
<circle cx="602.4" cy="927.6" r="2.4" stroke="none" stroke-width="0" fill="#0a5a0a"/>
<line x1="591.1" y1="985.0" x2="613.1" y2="973.0" stroke="#3cbe3c" stroke-width="1.6"/>
<line x1="602.1" y1="969.0" x2="602.1" y2="989.0" stroke="#3cbe3c" stroke-width="1.6"/>
<circle cx="602.1" cy="979.0" r="2.4" stroke="none" stroke-width="0" fill="#0a5a0a"/>
<line x1="576.3" y1="999.8" x2="598.3" y2="987.7" stroke="#3cbe3c" stroke-width="1.6"/>
<line x1="587.3" y1="983.7" x2="587.3" y2="1003.7" stroke="#3cbe3c" stroke-width="1.6"/>
<circle cx="587.3" cy="993.7" r="2.4" stroke="none" stroke-width="0" fill="#0a5a0a"/>
<line x1="562.5" y1="1002.5" x2="584.5" y2="990.5" stroke="#3cbe3c" stroke-width="1.6"/>
<line x1="573.5" y1="986.5" x2="573.5" y2="1006.5" stroke="#3cbe3c" stroke-width="1.6"/>
<circle cx="573.5" cy="996.5" r="2.4" stroke="none" stroke-width="0" fill="#0a5a0a"/>
<line x1="585.6" y1="1015.9" x2="607.6" y2="1003.9" stroke="#3cbe3c" stroke-width="1.6"/>
<line x1="596.6" y1="999.9" x2="596.6" y2="1019.9" stroke="#3cbe3c" stroke-width="1.6"/>
<circle cx="596.6" cy="1009.9" r="2.4" stroke="none" stroke-width="0" fill="#0a5a0a"/>
<line x1="568.0" y1="1026.2" x2="590.0" y2="1014.1" stroke="#3cbe3c" stroke-width="1.6"/>
<line x1="579.0" y1="1010.1" x2="579.0" y2="1030.1" stroke="#3cbe3c" stroke-width="1.6"/>
<circle cx="579.0" cy="1020.1" r="2.4" stroke="none" stroke-width="0" fill="#0a5a0a"/>
<ellipse cx="601.7" cy="1057.0" rx="5.5" ry="3.6" transform="rotate(-15 601.7 1057.0)" stroke="#900" stroke-width="1.2" fill="#f00"/>
<ellipse cx="610.5" cy="1061.2" rx="5" ry="3" transform="rotate(-15 610.5 1061.2)" stroke="#111" stroke-width="1.4" fill="none"/>
<ellipse cx="627.6" cy="1071.8" rx="5" ry="3.4" transform="rotate(-15 627.6 1071.8)" stroke="#111" stroke-width="2.2" fill="none"/>
<ellipse cx="647.9" cy="1066.7" rx="2.64" ry="2.11" transform="rotate(-60 647.9 1066.7)" fill="#111"/>
<ellipse cx="618.8" cy="1083.4" rx="2.64" ry="2.11" transform="rotate(-60 618.8 1083.4)" fill="#111"/>
<path d="M1018.2,564.1 L1066.5,592.4 L920.6,675.9 L873.1,648.8 Z" stroke="#2b2b2b" stroke-width="1.9" fill="none" stroke-linejoin="round" />
<line x1="1018.2" y1="564.1" x2="1018.2" y2="799.3" stroke="#2b2b2b" stroke-width="1.4"/>
<line x1="873.1" y1="648.8" x2="871.9" y2="741.8" stroke="#2b2b2b" stroke-width="1.9"/>
<line x1="872.3" y1="788.8" x2="872.3" y2="884.0" stroke="#2b2b2b" stroke-width="1.9"/>
<line x1="1066.5" y1="592.4" x2="1066.5" y2="677.0" stroke="#2b2b2b" stroke-width="1.9"/>
<line x1="1017.6" y1="656.8" x2="1066.4" y2="677.0" stroke="#2b2b2b" stroke-width="1.9"/>
<line x1="1031.5" y1="665.2" x2="1066.4" y2="685.8" stroke="#2b2b2b" stroke-width="1.9"/>
<line x1="1036.1" y1="659.7" x2="1083.6" y2="687.5" stroke="#2b2b2b" stroke-width="1.9"/>
<line x1="1017.6" y1="656.8" x2="1036.1" y2="659.3" stroke="#2b2b2b" stroke-width="1.9"/>
<line x1="1036.1" y1="659.7" x2="1031.5" y2="665.2" stroke="#2b2b2b" stroke-width="1.9"/>
<line x1="1066.4" y1="677.0" x2="1066.4" y2="685.8" stroke="#2b2b2b" stroke-width="1.9"/>
<line x1="1066.4" y1="685.8" x2="1083.6" y2="687.5" stroke="#2b2b2b" stroke-width="1.9"/>
<line x1="1031.5" y1="665.2" x2="1017.2" y2="682.9" stroke="#2b2b2b" stroke-width="1.9"/>
<line x1="1083.6" y1="687.5" x2="1053.8" y2="725.3" stroke="#2b2b2b" stroke-width="1.9"/>
<line x1="1017.2" y1="703.9" x2="1053.8" y2="725.3" stroke="#2b2b2b" stroke-width="1.9"/>
<line x1="1017.2" y1="713.1" x2="1049.6" y2="731.2" stroke="#2b2b2b" stroke-width="1.9"/>
<line x1="1053.8" y1="725.3" x2="1049.6" y2="731.2" stroke="#2b2b2b" stroke-width="1.9"/>
<line x1="1053.8" y1="725.3" x2="1066.4" y2="732.4" stroke="#2b2b2b" stroke-width="1.9"/>
<line x1="1049.6" y1="731.2" x2="1066.4" y2="732.4" stroke="#2b2b2b" stroke-width="1.9"/>
<line x1="1066.5" y1="732.4" x2="1066.5" y2="827.6" stroke="#2b2b2b" stroke-width="1.9"/>
<line x1="920.6" y1="675.9" x2="920.6" y2="911.1" stroke="#2b2b2b" stroke-width="1.9"/>
<path d="M873.1,884.0 L920.6,911.1 L1066.5,827.6" stroke="#2b2b2b" stroke-width="1.9" fill="none" stroke-linejoin="round" />
<path d="M873.1,884.0 L1018.2,799.3 L1066.5,827.6" stroke="#2b2b2b" stroke-width="1.3" fill="none" stroke-linejoin="round" />
<line x1="871.9" y1="741.8" x2="890.4" y2="743.9" stroke="#2b2b2b" stroke-width="1.9"/>
<line x1="871.9" y1="741.8" x2="919.8" y2="769.1" stroke="#2b2b2b" stroke-width="1.9"/>
<line x1="890.4" y1="743.9" x2="938.3" y2="772.0" stroke="#2b2b2b" stroke-width="1.9"/>
<line x1="890.4" y1="743.9" x2="885.3" y2="749.7" stroke="#2b2b2b" stroke-width="1.9"/>
<line x1="885.3" y1="749.7" x2="854.7" y2="787.6" stroke="#2b2b2b" stroke-width="1.9"/>
<line x1="854.7" y1="787.6" x2="872.7" y2="788.8" stroke="#2b2b2b" stroke-width="1.9"/>
<line x1="854.7" y1="787.6" x2="870.2" y2="796.4" stroke="#2b2b2b" stroke-width="1.9"/>
<line x1="875.3" y1="791.8" x2="914.7" y2="769.1" stroke="#2b2b2b" stroke-width="1.9"/>
<line x1="872.7" y1="788.8" x2="920.6" y2="816.6" stroke="#2b2b2b" stroke-width="1.9"/>
<line x1="870.2" y1="796.4" x2="919.0" y2="824.0" stroke="#2b2b2b" stroke-width="1.9"/>
<line x1="820.4" y1="824.4" x2="870.2" y2="796.4" stroke="#2b2b2b" stroke-width="1.9"/>
<path d="M820.4,893.6 L820.4,824.4 L1023.5,940.3" stroke="#2b2b2b" stroke-width="1.9" fill="none" stroke-linejoin="round" />
<path d="M1023.5,940.3 L1048.5,938.9 L1072.1,938.9 L1091.5,932.0 L1091.5,919.5 L1087.3,904.2 L1108.1,894.5 L1131.7,893.1" stroke="#2b2b2b" stroke-width="1.9" fill="none" stroke-linejoin="round" />
<line x1="1131.7" y1="893.1" x2="1016.0" y2="826.0" stroke="#2b2b2b" stroke-width="1.9"/>
<path d="M820.4,893.6 L1023.5,1011.0 L1048.5,1008.2 L1072.1,1006.8 L1091.5,1001.3 L1091.5,970.8 L1108.1,961.0 L1131.7,963.8 L1131.7,893.1" stroke="#2b2b2b" stroke-width="1.9" fill="none" stroke-linejoin="round" />
<line x1="1023.5" y1="940.3" x2="1023.5" y2="1011.0" stroke="#2b2b2b" stroke-width="1.9"/>
<line x1="1048.5" y1="938.9" x2="1048.5" y2="1008.2" stroke="#2b2b2b" stroke-width="1.9"/>
<line x1="1072.1" y1="938.9" x2="1072.1" y2="1006.8" stroke="#2b2b2b" stroke-width="1.9"/>
<line x1="1108.1" y1="894.5" x2="1108.1" y2="961.0" stroke="#2b2b2b" stroke-width="1.9"/>
<path d="M922.9,790 L922.9,647.1 L926.4,640.7 L961.8,621.8 L966.5,625.3 L966.5,752.4 L954.1,829.9 C953,832 951,832 950,832.5 L930,840 C926,840 924,836 923.8,832 Z" stroke="#111" stroke-width="1.8" fill="#fff" stroke-linejoin="round" />
<path d="M877.2,818.2 L906.7,798 L917.6,798 L922,830 L916.1,832.5 L877.2,824 Z" stroke="#111" stroke-width="1.6" fill="#fff" stroke-linejoin="round" />
<line x1="935.0" y1="770.0" x2="944.0" y2="835.0" stroke="#2b2b2b" stroke-width="1.0"/>
<line x1="940.0" y1="770.0" x2="948.0" y2="834.0" stroke="#2b2b2b" stroke-width="1.0"/>
<path d="M976.4,834.9 L974.7,670 L979.4,665.3 L1010,651.2 L1015.9,654.7 L1016.6,848.7 C1017,855 1019,859 1023.5,862.6 L1063.7,884.8 L1062.4,890.3 L1026.3,909.7 C1020,910 1015,906 1013,903 L984.7,873.7 C979,862 977,850 976.4,834.9 Z" stroke="#111" stroke-width="1.8" fill="#fff" stroke-linejoin="round" />
<path d="M1006,835 C1006.5,850 1009,858 1014,863 L1052,885" stroke="#2b2b2b" stroke-width="1.0" fill="none" stroke-linejoin="round" />
<path d="M1010,830 C1010.5,848 1012,855 1017,859 L1056,881" stroke="#2b2b2b" stroke-width="1.0" fill="none" stroke-linejoin="round" />
<line x1="924.3" y1="672.9" x2="966.5" y2="648.4" stroke="#2b2b2b" stroke-width="1.3"/>
<ellipse cx="930.7" cy="646.4" rx="2.88" ry="2.30" transform="rotate(-60 930.7 646.4)" fill="#111"/>
<ellipse cx="952.1" cy="648.6" rx="2.88" ry="2.30" transform="rotate(-60 952.1 648.6)" fill="#111"/>
<ellipse cx="937.9" cy="657.1" rx="2.88" ry="2.30" transform="rotate(-60 937.9 657.1)" fill="#111"/>
<ellipse cx="959.3" cy="659.3" rx="2.88" ry="2.30" transform="rotate(-60 959.3 659.3)" fill="#111"/>
<ellipse cx="945.0" cy="667.9" rx="2.88" ry="2.30" transform="rotate(-60 945.0 667.9)" fill="#111"/>
<ellipse cx="930.7" cy="675.7" rx="2.88" ry="2.30" transform="rotate(-60 930.7 675.7)" fill="#111"/>
<ellipse cx="952.1" cy="677.9" rx="2.88" ry="2.30" transform="rotate(-60 952.1 677.9)" fill="#111"/>
<ellipse cx="937.9" cy="686.4" rx="2.88" ry="2.30" transform="rotate(-60 937.9 686.4)" fill="#111"/>
<ellipse cx="959.3" cy="688.6" rx="2.88" ry="2.30" transform="rotate(-60 959.3 688.6)" fill="#111"/>
<ellipse cx="930.7" cy="705.7" rx="2.88" ry="2.30" transform="rotate(-60 930.7 705.7)" fill="#111"/>
<ellipse cx="945.0" cy="696.4" rx="2.88" ry="2.30" transform="rotate(-60 945.0 696.4)" fill="#111"/>
<ellipse cx="952.1" cy="707.9" rx="2.88" ry="2.30" transform="rotate(-60 952.1 707.9)" fill="#111"/>
<ellipse cx="937.9" cy="715.7" rx="2.88" ry="2.30" transform="rotate(-60 937.9 715.7)" fill="#111"/>
<ellipse cx="959.3" cy="717.9" rx="2.88" ry="2.30" transform="rotate(-60 959.3 717.9)" fill="#111"/>
<ellipse cx="945.0" cy="727.1" rx="2.88" ry="2.30" transform="rotate(-60 945.0 727.1)" fill="#111"/>
<ellipse cx="930.7" cy="735.0" rx="2.88" ry="2.30" transform="rotate(-60 930.7 735.0)" fill="#111"/>
<ellipse cx="959.3" cy="768.6" rx="2.88" ry="2.30" transform="rotate(-60 959.3 768.6)" fill="#111"/>
<ellipse cx="930.7" cy="785.0" rx="2.88" ry="2.30" transform="rotate(-60 930.7 785.0)" fill="#111"/>
<ellipse cx="945.0" cy="783.6" rx="2.88" ry="2.30" transform="rotate(-60 945.0 783.6)" fill="#111"/>
<ellipse cx="958.6" cy="783.6" rx="2.88" ry="2.30" transform="rotate(-60 958.6 783.6)" fill="#111"/>
<ellipse cx="930.7" cy="797.9" rx="2.88" ry="2.30" transform="rotate(-60 930.7 797.9)" fill="#111"/>
<ellipse cx="945.0" cy="796.4" rx="2.88" ry="2.30" transform="rotate(-60 945.0 796.4)" fill="#111"/>
<ellipse cx="954.3" cy="799.3" rx="2.88" ry="2.30" transform="rotate(-60 954.3 799.3)" fill="#111"/>
<ellipse cx="935.7" cy="809.3" rx="2.88" ry="2.30" transform="rotate(-60 935.7 809.3)" fill="#111"/>
<ellipse cx="945.0" cy="811.4" rx="2.88" ry="2.30" transform="rotate(-60 945.0 811.4)" fill="#111"/>
<ellipse cx="944.3" cy="644.3" rx="4.2" ry="2.8" transform="rotate(-60 944.3 644.3)" stroke="#111" stroke-width="1.8" fill="none"/>
<ellipse cx="945.0" cy="707.1" rx="4.2" ry="2.8" transform="rotate(-60 945.0 707.1)" stroke="#111" stroke-width="1.8" fill="none"/>
<ellipse cx="945.0" cy="767.1" rx="4.2" ry="2.8" transform="rotate(-60 945.0 767.1)" stroke="#111" stroke-width="1.8" fill="none"/>
<ellipse cx="979.4" cy="675.9" rx="2.88" ry="2.30" transform="rotate(-60 979.4 675.9)" fill="#111"/>
<ellipse cx="1001.8" cy="678.2" rx="2.88" ry="2.30" transform="rotate(-60 1001.8 678.2)" fill="#111"/>
<ellipse cx="1010.0" cy="659.4" rx="2.88" ry="2.30" transform="rotate(-60 1010.0 659.4)" fill="#111"/>
<ellipse cx="988.8" cy="686.5" rx="2.88" ry="2.30" transform="rotate(-60 988.8 686.5)" fill="#111"/>
<ellipse cx="1010.0" cy="688.8" rx="2.88" ry="2.30" transform="rotate(-60 1010.0 688.8)" fill="#111"/>
<ellipse cx="980.6" cy="700.6" rx="2.88" ry="2.30" transform="rotate(-60 980.6 700.6)" fill="#111"/>
<ellipse cx="1002.9" cy="707.6" rx="2.88" ry="2.30" transform="rotate(-60 1002.9 707.6)" fill="#111"/>
<ellipse cx="988.8" cy="715.9" rx="2.88" ry="2.30" transform="rotate(-60 988.8 715.9)" fill="#111"/>
<ellipse cx="1010.0" cy="717.1" rx="2.88" ry="2.30" transform="rotate(-60 1010.0 717.1)" fill="#111"/>
<ellipse cx="980.6" cy="733.5" rx="2.88" ry="2.30" transform="rotate(-60 980.6 733.5)" fill="#111"/>
<ellipse cx="988.8" cy="745.3" rx="2.88" ry="2.30" transform="rotate(-60 988.8 745.3)" fill="#111"/>
<ellipse cx="1010.0" cy="747.6" rx="2.88" ry="2.30" transform="rotate(-60 1010.0 747.6)" fill="#111"/>
<ellipse cx="995.9" cy="755.9" rx="2.88" ry="2.30" transform="rotate(-60 995.9 755.9)" fill="#111"/>
<ellipse cx="980.6" cy="764.1" rx="2.88" ry="2.30" transform="rotate(-60 980.6 764.1)" fill="#111"/>
<ellipse cx="1009.7" cy="796.0" rx="2.88" ry="2.30" transform="rotate(-60 1009.7 796.0)" fill="#111"/>
<ellipse cx="980.5" cy="814.1" rx="2.88" ry="2.30" transform="rotate(-60 980.5 814.1)" fill="#111"/>
<ellipse cx="995.8" cy="811.3" rx="2.88" ry="2.30" transform="rotate(-60 995.8 811.3)" fill="#111"/>
<ellipse cx="1008.3" cy="811.3" rx="2.88" ry="2.30" transform="rotate(-60 1008.3 811.3)" fill="#111"/>
<ellipse cx="981.9" cy="826.6" rx="2.88" ry="2.30" transform="rotate(-60 981.9 826.6)" fill="#111"/>
<ellipse cx="995.8" cy="826.6" rx="2.88" ry="2.30" transform="rotate(-60 995.8 826.6)" fill="#111"/>
<ellipse cx="1006.9" cy="826.6" rx="2.88" ry="2.30" transform="rotate(-60 1006.9 826.6)" fill="#111"/>
<ellipse cx="986.1" cy="839.0" rx="2.88" ry="2.30" transform="rotate(-60 986.1 839.0)" fill="#111"/>
<ellipse cx="995.8" cy="840.4" rx="2.88" ry="2.30" transform="rotate(-60 995.8 840.4)" fill="#111"/>
<ellipse cx="992.4" cy="673.5" rx="4.2" ry="2.8" transform="rotate(-60 992.4 673.5)" stroke="#111" stroke-width="1.8" fill="none"/>
<ellipse cx="994.7" cy="734.7" rx="4.2" ry="2.8" transform="rotate(-60 994.7 734.7)" stroke="#111" stroke-width="1.8" fill="none"/>
<ellipse cx="994.4" cy="796.0" rx="4.2" ry="2.8" transform="rotate(-60 994.4 796.0)" stroke="#111" stroke-width="1.8" fill="none"/>
<ellipse cx="1013.8" cy="877.9" rx="7" ry="3.5" transform="rotate(25 1013.8 877.9)" stroke="#111" stroke-width="1.8" fill="none"/>
<ellipse cx="1034.6" cy="889.0" rx="4" ry="2.6" transform="rotate(-20 1034.6 889.0)" stroke="#111" stroke-width="2.4" fill="none"/>
<ellipse cx="1055.4" cy="886.2" rx="2.64" ry="2.11" transform="rotate(-60 1055.4 886.2)" fill="#111"/>
<ellipse cx="1026.3" cy="902.8" rx="2.64" ry="2.11" transform="rotate(-60 1026.3 902.8)" fill="#111"/>
<ellipse cx="883.4" cy="819.8" rx="2.64" ry="2.11" transform="rotate(-60 883.4 819.8)" fill="#111"/>
<ellipse cx="902.8" cy="815.1" rx="4.5" ry="3" transform="rotate(-15 902.8 815.1)" stroke="#111" stroke-width="2.6" fill="#111"/>
<ellipse cx="911.4" cy="802.6" rx="2.64" ry="2.11" transform="rotate(-60 911.4 802.6)" fill="#111"/>
<ellipse cx="917.6" cy="824.4" rx="2.64" ry="2.11" transform="rotate(-60 917.6 824.4)" fill="#111"/>
<line x1="873.3" y1="816.6" x2="920.7" y2="843.5" stroke="#2b2b2b" stroke-width="1.4"/>
<line x1="920.7" y1="843.5" x2="974.0" y2="812.8" stroke="#2b2b2b" stroke-width="1.4"/>
<circle cx="346.4" cy="1403.5" r="28.1" stroke="#000" stroke-width="4.2" fill="#f00"/>
<line x1="304" y1="1596.7" x2="389" y2="1596.7" stroke="#0a850a" stroke-width="3.8" stroke-linecap="round"/>
<line x1="346.7" y1="1555" x2="346.7" y2="1638" stroke="#0a850a" stroke-width="3.8" stroke-linecap="round"/>
<circle cx="346.7" cy="1596.7" r="28.2" stroke="#000" stroke-width="3.9" fill="none"/>
<circle cx="514.0" cy="1347.1" r="6.2" stroke="#000" stroke-width="7.0" fill="none"/>
<rect x="540.5" y="1338" width="12.5" height="18.6" rx="3" fill="#000"/>
<rect x="544.5" y="1341" width="4" height="12.5" rx="1.5" fill="#fff"/>
<rect x="553" y="1340.6" width="65" height="12.4" fill="#000"/>
<rect x="618.5" y="1341.4" width="33.5" height="11" fill="#fff" stroke="#000" stroke-width="1.3"/>
<rect x="652" y="1341" width="24.5" height="12" fill="#000"/>
<rect x="656" y="1343.5" width="8" height="2.5" fill="#ccc"/>
<rect x="656" y="1348.5" width="8" height="2.5" fill="#ccc"/>
<ellipse cx="669.5" cy="1347" rx="1.6" ry="4" fill="#aaa"/>
<circle cx="514.4" cy="1404.6" r="13.3" stroke="#000" stroke-width="3.2" fill="none"/>
<circle cx="514.4" cy="1404.6" r="8.3" stroke="#000" stroke-width="2.6" fill="none"/>
<rect x="539.3" y="1397.1" width="10" height="14" rx="2" fill="#000"/>
<rect x="548.6" y="1390.1" width="15.6" height="28.8" rx="2.5" fill="#000"/>
<rect x="551.5" y="1393.5" width="7" height="5" fill="#fff"/>
<rect x="551.5" y="1400.5" width="7" height="8" fill="#fff"/>
<rect x="551.5" y="1411" width="7" height="4.5" fill="#fff"/>
<rect x="564" y="1395.5" width="87.3" height="17.5" rx="1" fill="#000"/>
<rect x="650" y="1397.5" width="5" height="13.5" rx="1.5" fill="#000"/>
<circle cx="514.4" cy="1460.7" r="13.8" stroke="#000" stroke-width="1.3" fill="none"/>
<circle cx="514.4" cy="1460.7" r="8.5" stroke="#000" stroke-width="2.8" fill="none"/>
<rect x="542.8" y="1449.4" width="10" height="22.6" fill="#fff" stroke="#000" stroke-width="1.3"/>
<line x1="542.8" y1="1455.0" x2="552.8" y2="1455.0" stroke="#2b2b2b" stroke-width="1.0"/>
<line x1="542.8" y1="1466.0" x2="552.8" y2="1466.0" stroke="#2b2b2b" stroke-width="1.0"/>
<rect x="553.6" y="1446" width="3.8" height="30.2" rx="1.5" fill="#000"/>
<path d="M557.4,1454.2 L633,1454.2 L646.8,1456 L646.8,1465 L633,1466.6 L557.4,1466.6" fill="#fff" stroke="#000" stroke-width="1.3"/>
<rect x="573.0" y="1451.5" width="2.6" height="18.5" rx="1.2" fill="#000"/>
<rect x="583.1" y="1451.5" width="2.6" height="18.5" rx="1.2" fill="#000"/>
<rect x="593.2" y="1451.5" width="2.6" height="18.5" rx="1.2" fill="#000"/>
<rect x="603.3" y="1451.5" width="2.6" height="18.5" rx="1.2" fill="#000"/>
<rect x="612.6" y="1451.5" width="2.6" height="18.5" rx="1.2" fill="#000"/>
<rect x="622.7" y="1451.5" width="2.6" height="18.5" rx="1.2" fill="#000"/>
<rect x="632.1" y="1451.5" width="2.6" height="18.5" rx="1.2" fill="#000"/>
<circle cx="498.7" cy="1568.0" r="12.2" stroke="#000" stroke-width="1.8" fill="none"/>
<path d="M493,1566 C495,1561 502,1561 504,1565 C505,1569 501,1572 497,1571 L494,1574 L492,1570 Z" fill="#222"/>
<rect x="540.2" y="1556" width="7.4" height="24.8" rx="1.5" fill="#444" stroke="#000" stroke-width="1.2"/>
<path d="M547.6,1561.4 L627.7,1561.4 L641.7,1568 L627.7,1574.6 L547.6,1574.6 Z" fill="#fff" stroke="#000" stroke-width="1.4"/>
<rect x="567" y="1561.4" width="59" height="13.2" fill="#333"/>
<rect x="568.5" y="1563" width="1.3" height="10" fill="#ccc"/>
<rect x="572.4" y="1563" width="1.3" height="10" fill="#ccc"/>
<rect x="576.3" y="1563" width="1.3" height="10" fill="#ccc"/>
<rect x="580.2" y="1563" width="1.3" height="10" fill="#ccc"/>
<rect x="584.1" y="1563" width="1.3" height="10" fill="#ccc"/>
<rect x="588.0" y="1563" width="1.3" height="10" fill="#ccc"/>
<rect x="591.9" y="1563" width="1.3" height="10" fill="#ccc"/>
<rect x="595.8" y="1563" width="1.3" height="10" fill="#ccc"/>
<rect x="599.7" y="1563" width="1.3" height="10" fill="#ccc"/>
<rect x="603.6" y="1563" width="1.3" height="10" fill="#ccc"/>
<rect x="607.5" y="1563" width="1.3" height="10" fill="#ccc"/>
<rect x="611.4" y="1563" width="1.3" height="10" fill="#ccc"/>
<rect x="615.3" y="1563" width="1.3" height="10" fill="#ccc"/>
<rect x="619.2" y="1563" width="1.3" height="10" fill="#ccc"/>
<rect x="623.1" y="1563" width="1.3" height="10" fill="#ccc"/>
<path d="M629,1568 L640,1568" stroke="#000" stroke-width="1"/>
<circle cx="498.7" cy="1625.1" r="12.2" stroke="#000" stroke-width="1.6" fill="none"/>
<circle cx="498.7" cy="1625.1" r="4.8" stroke="#000" stroke-width="2.8" fill="none"/>
<path d="M541,1613 C538,1618 538,1633 541,1638.5 L548.5,1638.5 L548.5,1613 Z" fill="#fff" stroke="#000" stroke-width="1.5"/>
<path d="M548.5,1617 C556,1619 561,1620 565,1620.5 L565,1630.5 C561,1631 556,1632 548.5,1634.5 Z" fill="#fff" stroke="#000" stroke-width="1.4"/>
<path d="M565,1620.5 L635,1621.5 L648.7,1625.5 L635,1629.5 L565,1630.5 Z" fill="#222" stroke="#000" stroke-width="1.2"/>
<path d="M566.0,1618.5 L568.4,1632.5" stroke="#000" stroke-width="1.8"/>
<path d="M570.2,1618.5 L572.6,1632.5" stroke="#000" stroke-width="1.8"/>
<path d="M574.4,1618.5 L576.8,1632.5" stroke="#000" stroke-width="1.8"/>
<path d="M578.6,1618.5 L581.0,1632.5" stroke="#000" stroke-width="1.8"/>
<path d="M582.8,1618.5 L585.2,1632.5" stroke="#000" stroke-width="1.8"/>
<path d="M587.0,1618.5 L589.4,1632.5" stroke="#000" stroke-width="1.8"/>
<path d="M591.2,1618.5 L593.6,1632.5" stroke="#000" stroke-width="1.8"/>
<path d="M595.4,1618.5 L597.8,1632.5" stroke="#000" stroke-width="1.8"/>
<path d="M599.6,1618.5 L602.0,1632.5" stroke="#000" stroke-width="1.8"/>
<path d="M603.8,1618.5 L606.2,1632.5" stroke="#000" stroke-width="1.8"/>
<path d="M608.0,1618.5 L610.4,1632.5" stroke="#000" stroke-width="1.8"/>
<path d="M612.2,1618.5 L614.6,1632.5" stroke="#000" stroke-width="1.8"/>
<path d="M616.4,1618.5 L618.8,1632.5" stroke="#000" stroke-width="1.8"/>
<path d="M620.6,1618.5 L623.0,1632.5" stroke="#000" stroke-width="1.8"/>
<path d="M624.8,1618.5 L627.2,1632.5" stroke="#000" stroke-width="1.8"/>
<path d="M629.0,1618.5 L631.4,1632.5" stroke="#000" stroke-width="1.8"/>
<path d="M633.2,1618.5 L635.6,1632.5" stroke="#000" stroke-width="1.8"/></svg>
</body></html>
